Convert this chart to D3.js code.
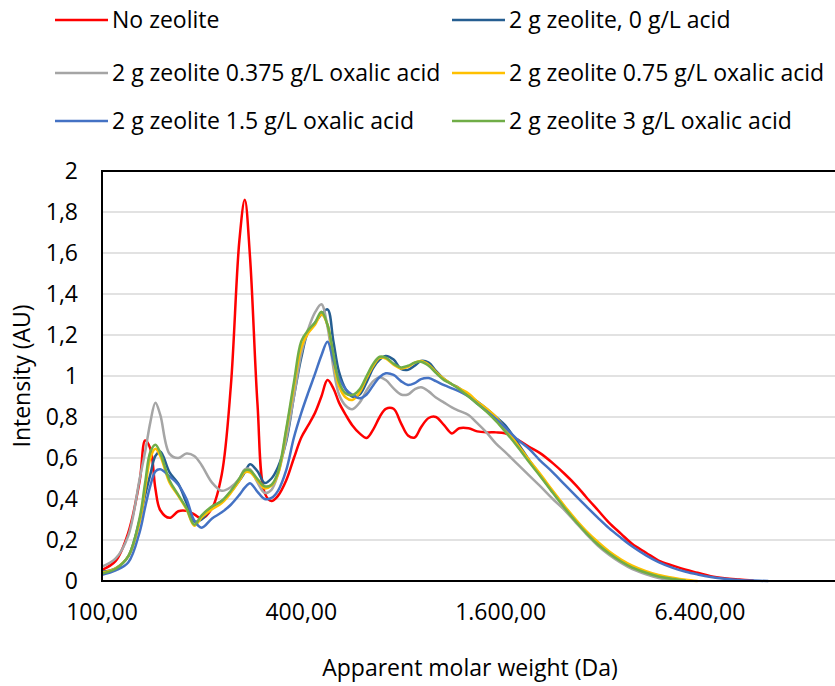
<!DOCTYPE html>
<html>
<head>
<meta charset="utf-8">
<script src="https://cdn.jsdelivr.net/npm/d3@7"></script>
<style>
  body { margin: 0; background: #fff; }
  svg text { font-family: "Open Sans", sans-serif; fill: #000; }
</style>
</head>
<body>
<div id="chart"></div>
<script>
// apparent molar weight (Da), shared by all series
var molarWeight = [100, 110, 120, 130, 135, 140, 145, 150, 160, 170,
  180, 190, 200, 215, 230, 245, 260, 270, 280, 295,
  310, 325, 340, 360, 380, 400, 420, 440, 460, 480,
  500, 520, 545, 570, 600, 630, 660, 690, 720, 760,
  800, 840, 880, 920, 970, 1020, 1080, 1140, 1200, 1280,
  1360, 1450, 1550, 1650, 1800, 1950, 2100, 2300, 2500, 2700,
  2900, 3150, 3400, 3700, 4000, 4400, 4800, 5300, 5800, 6300,
  6900, 7600, 8400, 9300, 10300]

var noZeolite = [0.054, 0.098, 0.235, 0.49, 0.685, 0.645, 0.45, 0.345, 0.308, 0.34,
  0.342, 0.325, 0.305, 0.355, 0.52, 0.95, 1.66, 1.86, 1.58, 0.86,
  0.43, 0.39, 0.415, 0.49, 0.60, 0.70, 0.76, 0.82, 0.90, 0.98,
  0.94, 0.87, 0.81, 0.76, 0.72, 0.698, 0.74, 0.80, 0.84, 0.84,
  0.77, 0.71, 0.70, 0.75, 0.795, 0.80, 0.76, 0.72, 0.745, 0.745,
  0.73, 0.725, 0.725, 0.72, 0.69, 0.655, 0.625, 0.575, 0.522, 0.468,
  0.41, 0.345, 0.285, 0.23, 0.18, 0.138, 0.10, 0.075, 0.055, 0.04,
  0.023, 0.013, 0.007, 0.002, null]

var acid0 = [0.045, 0.062, 0.12, 0.30, 0.42, 0.52, 0.61, 0.632, 0.53, 0.475,
  0.38, 0.29, 0.30, 0.36, 0.39, 0.435, 0.49, 0.53, 0.57, 0.535,
  0.478, 0.50, 0.555, 0.68, 0.90, 1.09, 1.22, 1.26, 1.30, 1.325,
  1.17, 1.02, 0.935, 0.90, 0.91, 0.97, 1.04, 1.08, 1.098, 1.08,
  1.035, 1.03, 1.05, 1.073, 1.065, 1.025, 0.985, 0.96, 0.94, 0.905,
  0.875, 0.84, 0.80, 0.76, 0.675, 0.59, 0.52, 0.435, 0.36, 0.292,
  0.237, 0.18, 0.137, 0.096, 0.066, 0.04, 0.022, 0.01, 0.002, null,
  null, null, null, null, null]

var acid0375 = [0.07, 0.11, 0.22, 0.50, 0.63, 0.775, 0.87, 0.81, 0.62, 0.60,
  0.622, 0.61, 0.565, 0.48, 0.44, 0.458, 0.50, 0.545, 0.545, 0.48,
  0.43, 0.445, 0.52, 0.69, 0.90, 1.11, 1.23, 1.31, 1.35, 1.24,
  1.04, 0.91, 0.855, 0.838, 0.87, 0.93, 0.975, 0.994, 0.98, 0.94,
  0.91, 0.91, 0.935, 0.945, 0.925, 0.895, 0.87, 0.847, 0.83, 0.81,
  0.77, 0.725, 0.67, 0.63, 0.57, 0.515, 0.465, 0.40, 0.345, 0.285,
  0.23, 0.172, 0.128, 0.088, 0.058, 0.033, 0.015, 0.003, null, null,
  null, null, null, null, null]

var acid075 = [0.04, 0.062, 0.12, 0.29, 0.45, 0.60, 0.645, 0.61, 0.48, 0.415,
  0.35, 0.27, 0.31, 0.35, 0.38, 0.43, 0.49, 0.53, 0.53, 0.49,
  0.452, 0.465, 0.52, 0.73, 0.95, 1.14, 1.21, 1.25, 1.30, 1.25,
  1.08, 0.95, 0.895, 0.883, 0.92, 0.99, 1.05, 1.088, 1.085, 1.055,
  1.037, 1.045, 1.065, 1.073, 1.055, 1.02, 0.985, 0.96, 0.94, 0.915,
  0.875, 0.842, 0.80, 0.745, 0.665, 0.59, 0.525, 0.44, 0.365, 0.30,
  0.245, 0.19, 0.145, 0.105, 0.075, 0.048, 0.03, 0.016, 0.006, 0.0,
  null, null, null, null, null]

var acid15 = [0.03, 0.052, 0.09, 0.24, 0.36, 0.465, 0.535, 0.545, 0.51, 0.47,
  0.40, 0.295, 0.26, 0.305, 0.335, 0.372, 0.42, 0.455, 0.477, 0.435,
  0.40, 0.405, 0.44, 0.54, 0.70, 0.82, 0.92, 1.01, 1.10, 1.167,
  1.075, 0.99, 0.935, 0.908, 0.891, 0.91, 0.955, 0.995, 1.013, 1.005,
  0.975, 0.956, 0.965, 0.985, 0.99, 0.975, 0.955, 0.94, 0.925, 0.90,
  0.865, 0.83, 0.79, 0.75, 0.69, 0.645, 0.59, 0.53, 0.47, 0.415,
  0.365, 0.308, 0.258, 0.21, 0.168, 0.125, 0.092, 0.064, 0.045, 0.032,
  0.02, 0.011, 0.005, 0.002, 0]

var acid3 = [0.037, 0.06, 0.12, 0.31, 0.48, 0.63, 0.665, 0.625, 0.49, 0.42,
  0.355, 0.275, 0.32, 0.365, 0.39, 0.44, 0.50, 0.54, 0.54, 0.497,
  0.462, 0.47, 0.53, 0.74, 0.97, 1.17, 1.225, 1.26, 1.314, 1.25,
  1.11, 0.97, 0.915, 0.907, 0.935, 1.00, 1.06, 1.094, 1.09, 1.06,
  1.042, 1.05, 1.065, 1.07, 1.05, 1.015, 0.98, 0.96, 0.935, 0.90,
  0.865, 0.826, 0.78, 0.73, 0.655, 0.58, 0.515, 0.43, 0.355, 0.29,
  0.235, 0.178, 0.135, 0.095, 0.065, 0.04, 0.022, 0.01, 0.002, null,
  null, null, null, null, null]

var seriesNames = ["No zeolite", "2 g zeolite, 0 g/L acid",
  "2 g zeolite 0.375 g/L oxalic acid", "2 g zeolite 0.75 g/L oxalic acid",
  "2 g zeolite 1.5 g/L oxalic acid", "2 g zeolite 3 g/L oxalic acid"]
var seriesValues = [noZeolite, acid0, acid0375, acid075, acid15, acid3]
var seriesColors = ["#ff0000", "#255e91", "#a5a5a5", "#ffc000", "#4472c4", "#70ad47"]

var xTicks = [100, 400, 1600, 6400]
var yTicks = [0, 0.2, 0.4, 0.6, 0.8, 1, 1.2, 1.4, 1.6, 1.8, 2]

const width = 835
const height = 686
const plotLeft = 102
const plotTop = 171
const plotBottom = 581
const fontSize = "23px"

// decimal comma, thousands dot
const locale = d3.formatLocale({ decimal: ",", thousands: ".", grouping: [3], currency: ["", ""] })

const svg = d3.select("#chart").append("svg")
  .attr("width", width)
  .attr("height", height)

// log base 4 axis, 100 .. 25600 (right part runs off the picture)
const x = d3.scaleLog().base(4)
  .domain([100, 25600])
  .range([plotLeft, plotLeft + 4 * 199.3])

const y = d3.scaleLinear()
  .domain([0, 2])
  .range([plotBottom, plotTop])

// gridlines
svg.append("g")
  .selectAll("line")
  .data(yTicks.slice(1, -1))
  .enter()
  .append("line")
  .attr("x1", plotLeft)
  .attr("x2", width)
  .attr("y1", d => y(d))
  .attr("y2", d => y(d))
  .style("stroke", "#d9d9d9")
  .style("stroke-width", 1.5)

// y tick labels
svg.append("g")
  .selectAll("text")
  .data(yTicks)
  .enter()
  .append("text")
  .attr("x", 78)
  .attr("y", d => y(d))
  .attr("dy", "0.35em")
  .attr("text-anchor", "end")
  .style("font-size", fontSize)
  .text(d => locale.format("~g")(d))

// x tick labels
svg.append("g")
  .selectAll("text")
  .data(xTicks)
  .enter()
  .append("text")
  .attr("x", d => x(d))
  .attr("y", 612)
  .attr("dy", "0.35em")
  .attr("text-anchor", "middle")
  .style("font-size", fontSize)
  .text(d => locale.format(",.2f")(d))

// the curves
const line = d3.line()
  .defined(d => d[1] != null)
  .x(d => x(d[0]))
  .y(d => y(d[1]))
  .curve(d3.curveCatmullRom.alpha(0.5))

svg.append("g")
  .selectAll("path")
  .data(seriesValues)
  .enter()
  .append("path")
  .attr("d", vals => line(molarWeight.map((m, i) => [m, vals[i]])))
  .style("fill", "none")
  .style("stroke", (d, i) => seriesColors[i])
  .style("stroke-width", 2.5)
  .style("stroke-linejoin", "round")

// plot frame: left, top, bottom in black
svg.append("path")
  .attr("d", "M" + width + "," + plotTop + "H" + plotLeft + "V" + plotBottom + "H" + width)
  .style("fill", "none")
  .style("stroke", "#000")
  .style("stroke-width", 2)

// axis titles
svg.append("text")
  .attr("x", 470)
  .attr("y", 668)
  .attr("dy", "0.35em")
  .attr("text-anchor", "middle")
  .style("font-size", fontSize)
  .text("Apparent molar weight (Da)")

svg.append("text")
  .attr("transform", "translate(22,376) rotate(-90)")
  .attr("dy", "0.35em")
  .attr("text-anchor", "middle")
  .style("font-size", fontSize)
  .text("Intensity (AU)")

// legend, two columns
const legend = svg.append("g")
  .selectAll("g")
  .data(seriesNames)
  .enter()
  .append("g")
  .attr("transform", (d, i) => "translate(" + [55, 452][i % 2] + "," + [20, 73, 121][Math.floor(i / 2)] + ")")

legend.append("line")
  .attr("x1", 0)
  .attr("x2", 53)
  .style("stroke", (d, i) => seriesColors[i])
  .style("stroke-width", 2.5)

legend.append("text")
  .attr("x", 57)
  .attr("dy", "0.35em")
  .style("font-size", fontSize)
  .text(d => d)
</script>
</body>
</html>
